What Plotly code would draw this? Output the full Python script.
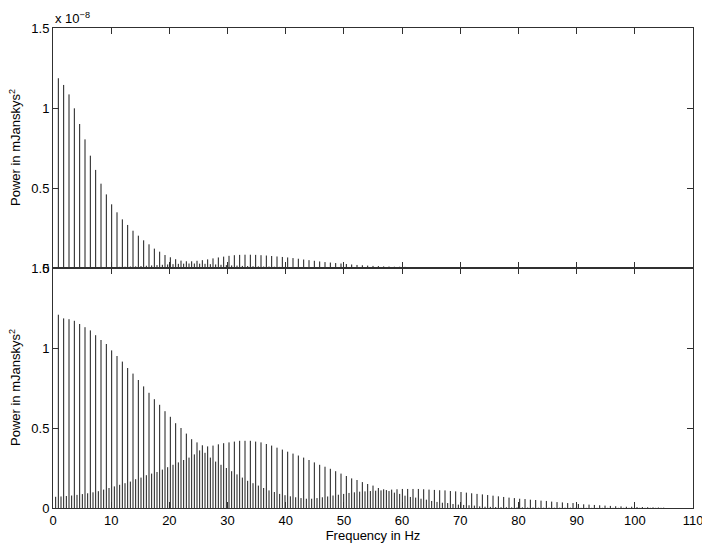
import numpy as np
import plotly.graph_objects as go

# Frequency grid (Hz): main stems sit on multiples of bin_hz, secondary stems half a bin later
bin_hz = 0.9167

# Top panel (x 1e-8 mJanskys^2)
top_main = [1.186, 1.144, 1.085, 0.998, 0.900, 0.804, 0.702, 0.613, 0.527, 0.460,
            0.398, 0.348, 0.304, 0.269, 0.233, 0.202, 0.173, 0.148, 0.121, 0.102,
            0.081, 0.067, 0.055, 0.046, 0.042, 0.042, 0.045, 0.049, 0.054, 0.060,
            0.066, 0.071, 0.076, 0.080, 0.082, 0.083, 0.083, 0.082, 0.080, 0.078,
            0.075, 0.072, 0.069, 0.066, 0.062, 0.058, 0.053, 0.049, 0.045, 0.041,
            0.037, 0.034, 0.031, 0.028, 0.025, 0.022, 0.019, 0.017, 0.015, 0.013,
            0.012, 0.010, 0.009, 0.008, 0.008, 0.007, 0.006, 0.005, 0.005, 0.004,
            0.004, 0.003, 0.003, 0.003, 0.002, 0.002, 0.002, 0.002, 0.001, 0.001]
top_side = [0.002, 0.002, 0.002, 0.003, 0.003, 0.003, 0.003, 0.004, 0.004, 0.004,
            0.005, 0.006, 0.007, 0.008, 0.009, 0.010, 0.012, 0.014, 0.016, 0.018,
            0.020, 0.022, 0.024, 0.026, 0.027, 0.028, 0.028, 0.027, 0.026, 0.024,
            0.022, 0.020, 0.018, 0.016, 0.015, 0.013, 0.012, 0.011, 0.010, 0.009,
            0.009, 0.008, 0.007, 0.007, 0.006, 0.006, 0.005, 0.005, 0.004, 0.004,
            0.004, 0.003, 0.003, 0.003, 0.003, 0.002, 0.002, 0.002, 0.002, 0.002]

# Bottom panel
bot_main = [1.208, 1.185, 1.180, 1.170, 1.150, 1.130, 1.110, 1.080, 1.050, 1.025,
            0.985, 0.950, 0.915, 0.875, 0.840, 0.800, 0.760, 0.720, 0.680, 0.645,
            0.605, 0.570, 0.530, 0.500, 0.465, 0.430, 0.410, 0.392, 0.385, 0.390,
            0.398, 0.405, 0.410, 0.415, 0.420, 0.420, 0.420, 0.415, 0.410, 0.400,
            0.390, 0.377, 0.365, 0.352, 0.340, 0.328, 0.315, 0.300, 0.285, 0.270,
            0.258, 0.245, 0.230, 0.215, 0.200, 0.185, 0.175, 0.162, 0.150, 0.140,
            0.125, 0.117, 0.106, 0.096, 0.088, 0.077, 0.069, 0.065, 0.058, 0.052,
            0.044, 0.038, 0.033, 0.031, 0.025, 0.021, 0.019, 0.017, 0.015, 0.010,
            0.008, 0.007, 0.006, 0.005, 0.005, 0.004, 0.004, 0.004, 0.003, 0.003,
            0.002, 0.002, 0.002, 0.002, 0.002, 0.002, 0.002, 0.001, 0.001, 0.001,
            0.001, 0.001, 0.001, 0.001, 0.001, 0.001, 0.001, 0.001, 0.001, 0.001,
            0.001, 0.001, 0.001, 0.001]
bot_side = [0.070, 0.072, 0.075, 0.078, 0.082, 0.087, 0.092, 0.098, 0.105, 0.115,
            0.125, 0.135, 0.145, 0.155, 0.165, 0.180, 0.190, 0.205, 0.215, 0.225,
            0.240, 0.255, 0.270, 0.285, 0.300, 0.315, 0.335, 0.360, 0.345, 0.315,
            0.290, 0.270, 0.250, 0.230, 0.210, 0.190, 0.170, 0.155, 0.140, 0.125,
            0.110, 0.100, 0.088, 0.080, 0.073, 0.067, 0.062, 0.058, 0.058, 0.062,
            0.067, 0.072, 0.078, 0.083, 0.088, 0.094, 0.098, 0.102, 0.104, 0.106,
            0.108, 0.110, 0.112, 0.115, 0.117, 0.119, 0.119, 0.119, 0.119, 0.117,
            0.115, 0.113, 0.111, 0.110, 0.106, 0.104, 0.100, 0.096, 0.092, 0.088,
            0.085, 0.081, 0.077, 0.073, 0.069, 0.065, 0.062, 0.058, 0.056, 0.052,
            0.050, 0.046, 0.044, 0.040, 0.037, 0.035, 0.031, 0.031, 0.025, 0.023,
            0.021, 0.019, 0.017, 0.015, 0.013, 0.011, 0.010, 0.008, 0.008, 0.006,
            0.006, 0.005, 0.004, 0.003, 0.002]

x_ticks = list(range(0, 111, 10))
y_ticks = [0, 0.5, 1, 1.5]
y_tick_text = ["0", "0.5", "1", "1.5"]

FONT = "Liberation Sans, Arial, Helvetica, sans-serif"
FS = 13
STEM = "#1a1a1a"
AX = "#303030"


def stems(freqs, vals):
    xs, ys = [], []
    for f, v in zip(freqs, vals):
        xs += [f, f, None]
        ys += [0, v, None]
    return xs, ys


fig = go.Figure()
panels = [("x", "y", top_main, top_side), ("x2", "y2", bot_main, bot_side)]
for xa, ya, main, side in panels:
    fm = bin_hz * np.arange(1, len(main) + 1)
    fs = bin_hz * (np.arange(len(side)) + 0.5)
    for f, v in ((fs, side), (fm, main)):
        xs, ys = stems(f, v)
        fig.add_trace(go.Scatter(x=xs, y=ys, mode="lines", xaxis=xa, yaxis=ya,
                                 line=dict(color=STEM, width=1), hoverinfo="skip",
                                 showlegend=False))

axis_common = dict(showline=True, linecolor=AX, linewidth=1, mirror="ticks",
                   ticks="inside", ticklen=6, tickcolor=AX, tickwidth=1,
                   showgrid=False, zeroline=False, automargin=False,
                   tickfont=dict(family=FONT, size=FS, color="black"))

fig.update_layout(
    width=710, height=549,
    margin=dict(l=45, r=25, t=20, b=49, autoexpand=False),
    paper_bgcolor="white", plot_bgcolor="white",
    font=dict(family=FONT, size=FS, color="black"),
    xaxis=dict(domain=[0, 1], anchor="y", range=[0, 110], tickvals=x_ticks,
               showticklabels=False, **axis_common),
    yaxis=dict(domain=[0.5, 1], anchor="x", range=[0, 1.5], tickvals=y_ticks,
               ticktext=y_tick_text, **axis_common),
    xaxis2=dict(domain=[0, 1], anchor="y2", range=[0, 110], tickvals=x_ticks,
                title=dict(text="Frequency in Hz", standoff=2,
                           font=dict(family=FONT, size=FS, color="black")),
                **axis_common),
    yaxis2=dict(domain=[0, 0.5], anchor="x2", range=[0, 1.5], tickvals=y_ticks,
                ticktext=y_tick_text, **axis_common),
    annotations=[
        dict(text="x 10<sup>−8</sup>", xref="paper", yref="paper", x=0, y=1,
             xanchor="left", yanchor="bottom", showarrow=False, yshift=0,
             font=dict(family=FONT, size=FS, color="black")),
        dict(text="Power in mJanskys<sup>2</sup>", xref="paper", yref="paper",
             x=-38 / 640, y=0.75, xanchor="center", yanchor="middle",
             textangle=-90, showarrow=False,
             font=dict(family=FONT, size=FS, color="black")),
        dict(text="Power in mJanskys<sup>2</sup>", xref="paper", yref="paper",
             x=-38 / 640, y=0.25, xanchor="center", yanchor="middle",
             textangle=-90, showarrow=False,
             font=dict(family=FONT, size=FS, color="black")),
    ],
)

fig.write_html("out.html")
